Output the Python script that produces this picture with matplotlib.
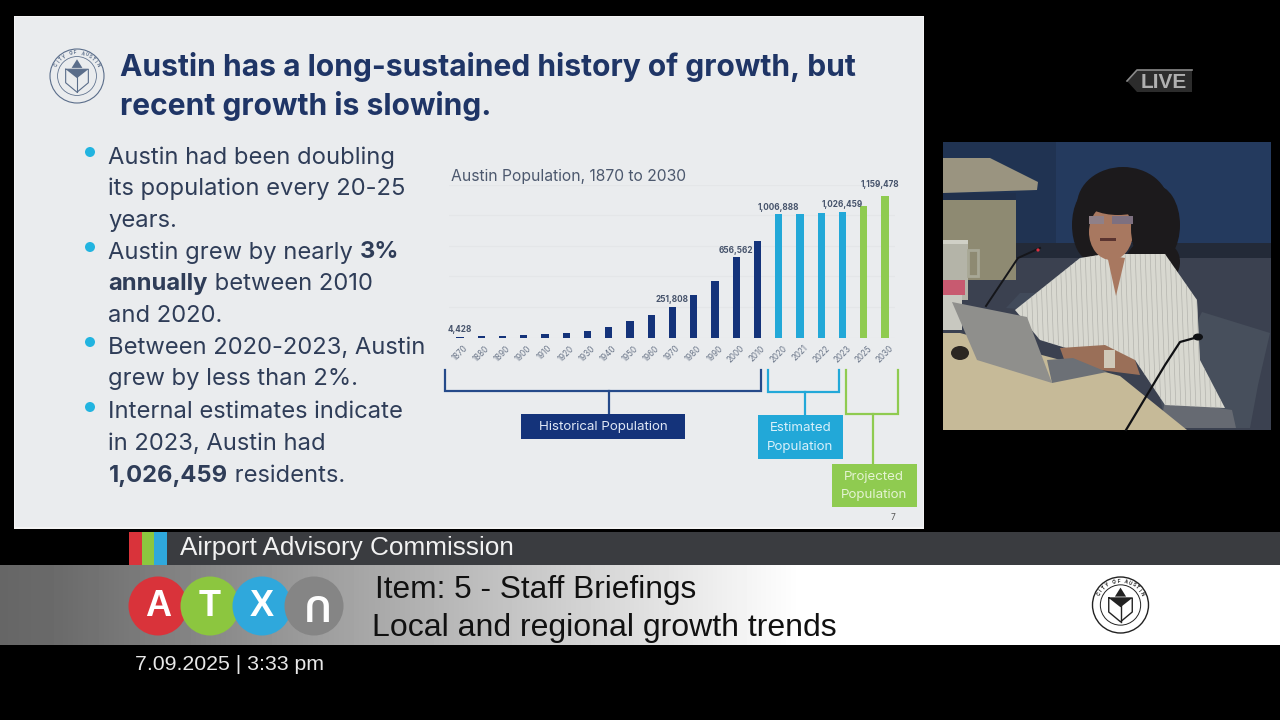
import numpy as np
import matplotlib
matplotlib.use("Agg")
import matplotlib.pyplot as plt
from matplotlib.patches import Rectangle, Polygon, Circle, Ellipse

#Chart values
years = ["1870","1880","1890","1900","1910","1920","1930","1940","1950","1960","1970",
         "1980","1990","2000","2010","2020","2021","2022","2023","2025","2030"]
population = [4428,11013,14575,22258,29860,34876,53120,87930,132459,186545,251808,
              345890,465622,656562,790390,1006888,1011000,1019000,1026459,1080000,1159478]
groups = ["hist"]*15 + ["est"]*4 + ["proj"]*2
labelled = {"1870":"4,428", "1970":"251,808", "2000":"656,562", "2020":"1,006,888",
            "2023":"1,026,459", "2030":"1,159,478"}

NAVY="#14337a"
BLUE="#22a8d8"
GREEN="#8fcb50"
INK="#2f3d58"
group_colors={"hist":NAVY,"est":BLUE,"proj":GREEN}

bullets = [
    (152,[[("Austin had been doubling",False)],[("its population every 20-25",False)],[("years.",False)]],157),
    (247,[[("Austin grew by nearly ",False),("3%",True)],[("annually",True),(" between 2010",False)],[("and 2020.",False)]],252),
    (342,[[("Between 2020-2023, Austin",False)],[("grew by less than 2%.",False)]],347),
    (407,[[("Internal estimates indicate",False)],[("in 2023, Austin had",False)],[("1,026,459",True),(" residents.",False)]],412),
]

plt.rcParams["font.family"]=["Inter","DejaVu Sans"]
fig=plt.figure(figsize=(12.8,7.2),dpi=100,facecolor="black")

#whole frame in pixel coordinates
bg=fig.add_axes([0,0,1,1])
bg.set_xlim(0,1280)
bg.set_ylim(720,0)
bg.axis("off")

def rect(x0,y0,x1,y1,color,z=1,a=bg):
    a.add_patch(Rectangle((x0,y0),x1-x0,y1-y0,facecolor=color,edgecolor="none",zorder=z))

def poly(pts,color,z=2):
    p=Polygon(pts,closed=True,facecolor=color,edgecolor="none",zorder=z)
    bg.add_patch(p)
    return p

#slide
rect(14,16,924,529,"#f4f4f4")
rect(15,17,923,527,"#eaecee")

#city seal with the name around the top
def seal(cx,cy,r,col,lw,fs):
    bg.add_patch(Circle((cx,cy),r,fill=False,edgecolor=col,linewidth=lw,zorder=3))
    bg.add_patch(Circle((cx,cy),r*0.72,fill=False,edgecolor=col,linewidth=lw*0.7,zorder=3))
    bg.plot([cx-r*.42,cx+r*.42,cx+r*.42,cx,cx-r*.42,cx-r*.42],
            [cy-r*.25,cy-r*.25,cy+r*.25,cy+r*.6,cy+r*.25,cy-r*.25],color=col,lw=lw,zorder=3)
    poly([(cx-r*.42,cy-r*.25),(cx+r*.42,cy-r*.25),(cx,cy+r*.08)],col,3)
    bg.plot([cx,cx],[cy,cy+r*.6],color=col,lw=lw,zorder=3)
    poly([(cx-r*.2,cy-r*.3),(cx,cy-r*.62),(cx+r*.2,cy-r*.3)],col,3)
    name="CITY OF AUSTIN"
    for i,ch in enumerate(name):
        ang=np.radians(-62+i*124/(len(name)-1))
        bg.text(cx+r*.86*np.sin(ang),cy-r*.86*np.cos(ang),ch,fontsize=fs,fontweight="bold",color=col,
                ha="center",va="center",rotation=-np.degrees(ang),zorder=3)

seal(77,76,27,"#5a6d8a",0.8,3.2)

bg.text(120,67,"Austin has a long-sustained history of growth, but",fontsize=21.6,fontweight="bold",color="#1f3566",va="center",zorder=4)
bg.text(120,106,"recent growth is slowing.",fontsize=21.6,fontweight="bold",color="#1f3566",va="center",zorder=4)

#bullets, bold runs are placed after the previous run
fig.canvas.draw()
rend=fig.canvas.get_renderer()
for by,lines,ty in bullets:
    bg.add_patch(Circle((90,by),5,facecolor="#22b4e0",edgecolor="none",zorder=4))
    for i,line in enumerate(lines):
        x=108.5
        y=ty+0.5+i*31.7
        for s,b in line:
            t=bg.text(x,y,s,fontsize=17.1,fontweight="bold" if b else "normal",color=INK,va="center",zorder=4)
            x=x+t.get_window_extent(rend).width

#the chart
ax=fig.add_axes([449/1280,1-337.5/720,446/1280,152.7/720])
ax.set_facecolor("none")
pos=np.arange(len(years))
bar_colors=[group_colors[g] for g in groups]
ax.bar(pos,population,width=0.34,color=bar_colors,zorder=3)
ax.set_xlim(-0.518,20.47)
ax.set_ylim(0,1250000)
ax.set_yticks(np.arange(0,1250001,250000))
ax.tick_params(axis="y",left=False,labelleft=False)
ax.grid(axis="y",color="#e4e6e8",lw=0.8,zorder=1)
ax.set_axisbelow(True)
for s in ax.spines.values():
    s.set_visible(False)
ax.set_xticks(pos)
ax.set_xticklabels(years,rotation=45,fontsize=5.8,color="#6a7588",ha="center",va="top")
ax.tick_params(axis="x",length=0,pad=4.5)
for p,y,v in zip(pos,years,population):
    if y in labelled:
        off=(-3.6,5) if y=="2030" else (0,2)
        ax.annotate(labelled[y],(p,v),xytext=off,textcoords="offset points",
                    ha="center",va="bottom",fontsize=5.9,fontweight="bold",color="#46536b")

bg.text(451,176,"Austin Population, 1870 to 2030",fontsize=11.3,color="#4c586e",va="center",zorder=4)

#brackets under the chart
def bracket(x0,x1,y0,y1,sx,sy,col):
    bg.plot([x0,x0,x1,x1],[y0,y1,y1,y0],color=col,lw=1.6,zorder=3,solid_joinstyle="miter")
    bg.plot([sx,sx],[y1,sy],color=col,lw=1.6,zorder=3)

bracket(444.5,761,370,390.5,609,414,"#254a8a")
bracket(767.5,839,370,392,805,415,BLUE)
bracket(846,898,370,414,873,464,GREEN)

rect(521,414,685,439,NAVY,3)
bg.text(603,427,"Historical Population",fontsize=9.6,color="#dfe7f5",ha="center",va="center",zorder=4)
rect(758,415,843,459,BLUE,3)
bg.text(800.5,428,"Estimated",fontsize=9.6,color="#d8f0fa",ha="center",va="center",zorder=4)
bg.text(800.5,447,"Population",fontsize=9.6,color="#d8f0fa",ha="center",va="center",zorder=4)
rect(832,464,917,507,GREEN,3)
bg.text(874,477,"Projected",fontsize=9.6,color="#e4f3d2",ha="center",va="center",zorder=4)
bg.text(874,495,"Population",fontsize=9.6,color="#e4f3d2",ha="center",va="center",zorder=4)
bg.text(893,517,"7",fontsize=6,color="#555555",ha="center",va="center",zorder=4)

#LIVE badge
poly([(1127,81),(1137,70),(1192,70),(1192,92),(1137,92)],"#2c2c2c",2)
bg.plot([1127,1137,1192],[81,70,70],color="#8a8a8a",lw=1.2,zorder=3)
bg.text(1164,82,"LIVE",fontsize=15,fontweight="bold",color="#b0b0b0",ha="center",va="center",family="Liberation Sans",zorder=3)

#webcam picture, rough shapes
rect(943,142,1271,430,"#243a5e",1)
rect(943,142,1056,243,"#203352",1)
rect(943,243,1271,260,"#232a38",1)
rect(943,258,1271,430,"#3b4150",1)
rect(943,200,1016,280,"#8e8a72",2)
poly([(943,158),(990,158),(1038,182),(1037,190),(943,193)],"#9a9480",2)
rect(943,193,1016,200,"#20304c",2)
rect(943,240,968,300,"#b4b4a8",3)
rect(943,240,968,244,"#d0d0c6",3)
bg.add_patch(Rectangle((968,250),10,26,fill=False,edgecolor="#a8a896",lw=2,zorder=3))
rect(943,280,965,295,"#c85a70",4)
rect(943,295,962,330,"#c8c8c0",3)
poly([(1202,312),(1270,333),(1258,385),(1250,428),(1165,428),(1160,395)],"#474f5c",2)
poly([(1165,400),(1232,410),(1236,428),(1160,428)],"#666a72",3)
poly([(1006,308),(1020,293),(1040,293),(1050,300),(1030,310)],"#414a5a",2)
#desk
poly([(943,333),(960,333),(1120,376),(1187,430),(943,430)],"#c6ba98",3)
#person
hair_col="#1c1a1c"
hair_blobs=[(1123,205,92,76),(1090,225,36,70),(1155,225,50,80),(1098,262,26,38),(1150,262,48,44),(1168,262,24,34)]
for hx,hy,hw,hh in hair_blobs:
    bg.add_patch(Ellipse((hx,hy),hw,hh,facecolor=hair_col,zorder=4))
shirt=poly([(1015,310),(1080,258),(1105,254),(1165,254),(1197,300),(1200,360),(1225,408),(1165,405),(1135,360),(1105,360),(1040,340)],"#d8d8d0",5)
for sx in np.arange(1020,1225,5):
    ln,=bg.plot([sx,sx+6],[250,410],color="#b4b4ae",lw=0.5,zorder=5)
    ln.set_clip_path(shirt)
bg.add_patch(Ellipse((1111,232),44,56,facecolor="#a87860",zorder=6))
poly([(1107,255),(1125,258),(1116,296)],"#a87860",6)
bg.add_patch(Ellipse((1118,200),66,30,facecolor=hair_col,zorder=7))
bg.add_patch(Ellipse((1140,228),18,50,facecolor=hair_col,zorder=7))
rect(1089,216,1104,224,"#8f8088",8)
rect(1112,216,1133,224,"#7d7080",8)
rect(1100,238,1116,241,"#5a3430",8)
poly([(1060,348),(1105,345),(1135,360),(1140,375),(1100,370),(1065,362)],"#9a6f58",7)
rect(1104,350,1115,368,"#cfc8b8",8)
#laptop
poly([(952,302),(1027,317),(1052,383),(977,360)],"#8f8f8c",8)
poly([(1052,383),(1107,372),(1073,358),(1047,360)],"#6c7076",8)
bg.add_patch(Ellipse((960,353),18,14,facecolor="#2a2622",zorder=4))
#mics
bg.plot([986,1018,1040],[306,258,248],color="#15161a",lw=1.4,zorder=7)
bg.add_patch(Circle((1038,250),1.6,facecolor="#e03040",zorder=8))
bg.plot([1126,1165,1180,1198],[430,365,342,337],color="#101114",lw=1.6,zorder=9)
bg.add_patch(Ellipse((1198,337),10,7,facecolor="#101114",zorder=9))

#lower third
rect(129,532,1280,565,"#3a3c40",1)
rect(129,532,142,565,"#d9333a",2)
rect(142,532,154,565,"#8cc63f",2)
rect(154,532,167,565,"#2fa8dc",2)
bg.text(179.5,548,"Airport Advisory Commission",fontsize=18.8,color="#f2f2f2",family="Liberation Sans",va="center",zorder=3)

grad=np.interp(np.arange(1280),[0,60,400,800,1280],[0.40,0.42,0.68,1.0,1.0])
bg.imshow(grad[np.newaxis,:],cmap="gray",vmin=0,vmax=1,extent=(0,1280,645,565),aspect="auto",zorder=1)
bg.set_xlim(0,1280)
bg.set_ylim(720,0)

circles=[(158,"#d9333a","A",0,606),(210,"#8cc63f","T",0,606),(262,"#2fa8dc","X",0,606),(314,"#858585","U",180,603)]
for cx,col,ch,rot,ty in circles:
    bg.add_patch(Circle((cx,606),29.5,facecolor=col,edgecolor="none",zorder=3))
    bg.text(cx,ty,ch,fontsize=26,fontweight="bold",color="white",ha="center",va="center",rotation=rot,
            family="Liberation Sans",zorder=4)

bg.text(375,590,"Item: 5 - Staff Briefings",fontsize=22.8,color="#111111",family="Liberation Sans",va="center",zorder=4)
bg.text(372,628,"Local and regional growth trends",fontsize=23,color="#111111",family="Liberation Sans",va="center",zorder=4)
seal(1120.5,605,28,"#222222",1.0,3.4)
bg.text(135,664,"7.09.2025 | 3:33 pm",fontsize=15.3,color="#e8e8e8",family="Liberation Sans",va="center",zorder=4)

fig.savefig("out.png",dpi=100,facecolor="black")
